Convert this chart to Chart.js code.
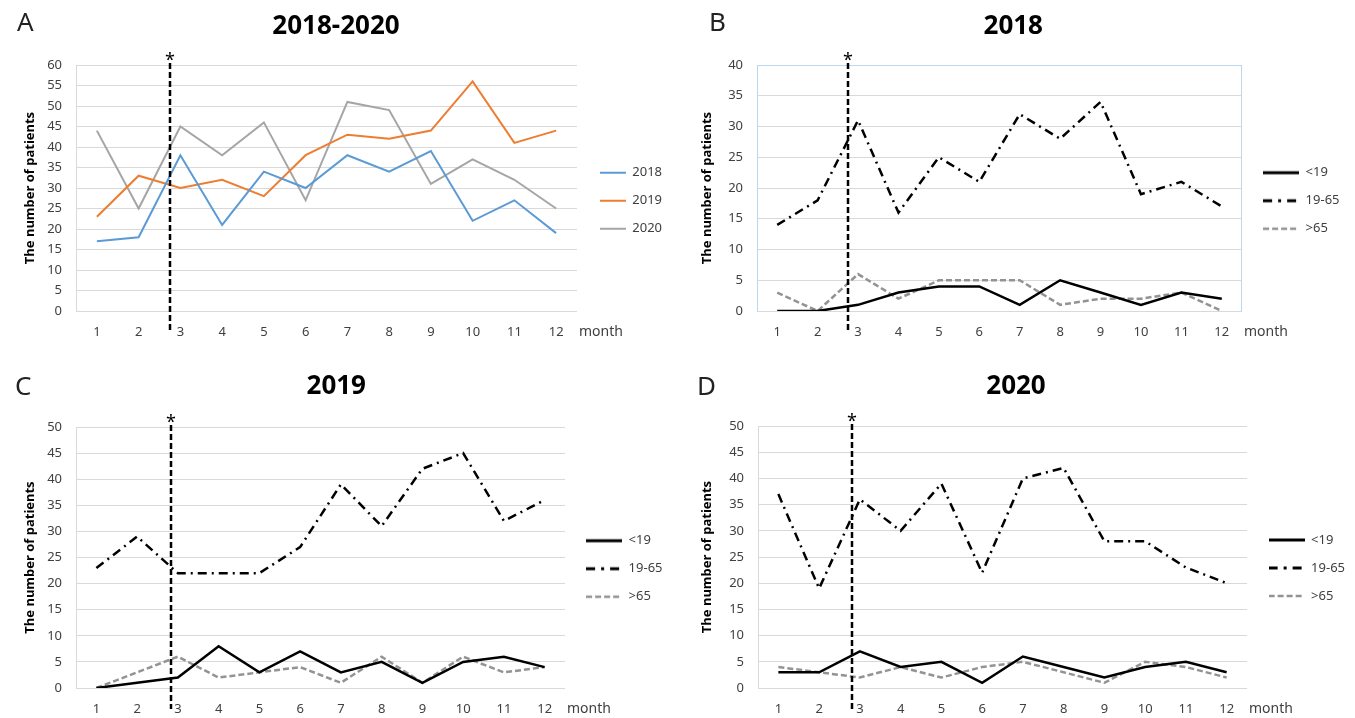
<!DOCTYPE html>
<html>
<head>
<meta charset="utf-8">
<script src="https://cdn.jsdelivr.net/npm/chart.js@4.4.1/dist/chart.umd.min.js"></script>
<style>
  body { margin: 0; background: #fff; width: 1355px; height: 718px; position: relative; overflow: hidden; }
  canvas { position: absolute; }
</style>
</head>
<body>
<canvas id="chartA" width="677" height="341" style="left:0;top:0"></canvas>
<canvas id="chartB" width="678" height="341" style="left:677px;top:0"></canvas>
<canvas id="chartC" width="677" height="358" style="left:0;top:360px"></canvas>
<canvas id="chartD" width="678" height="358" style="left:677px;top:360px"></canvas>
<script>
const months = ["1", "2", "3", "4", "5", "6", "7", "8", "9", "10", "11", "12"];

// panel A: all patients per year
const yearLabels = ["2018", "2019", "2020"];
const total2018 = [17, 18, 38, 21, 34, 30, 38, 34, 39, 22, 27, 19];
const total2019 = [23, 33, 30, 32, 28, 38, 43, 42, 44, 56, 41, 44];
const total2020 = [44, 25, 45, 38, 46, 27, 51, 49, 31, 37, 32, 25];

// panels B-D: by age group
const ageLabels = ["<19", "19-65", ">65"];
const young2018 = [0, 0, 1, 3, 4, 4, 1, 5, 3, 1, 3, 2];
const adult2018 = [14, 18, 31, 16, 25, 21, 32, 28, 34, 19, 21, 17];
const old2018 = [3, 0, 6, 2, 5, 5, 5, 1, 2, 2, 3, 0];

const young2019 = [0, 1, 2, 8, 3, 7, 3, 5, 1, 5, 6, 4];
const adult2019 = [23, 29, 22, 22, 22, 27, 39, 31, 42, 45, 32, 36];
const old2019 = [0, 3, 6, 2, 3, 4, 1, 6, 1, 6, 3, 4];

const young2020 = [3, 3, 7, 4, 5, 1, 6, 4, 2, 4, 5, 3];
const adult2020 = [37, 19, 36, 30, 39, 22, 40, 42, 28, 28, 23, 20];
const old2020 = [4, 3, 2, 4, 2, 4, 5, 3, 1, 5, 4, 2];

const yMaxA = 60, yMaxB = 40, yMaxC = 50, yMaxD = 50;

const FONT = "'Noto Sans', sans-serif";
const TICK = "#404040";
const DASHDOT = [9, 5, 2, 5];
const DASH = [6, 3];

// small picture of a line, used as legend key (keeps the dash pattern)
function keyLine(width, color, lw, dash) {
  const c = document.createElement("canvas");
  c.width = width;
  c.height = 6;
  const g = c.getContext("2d");
  g.strokeStyle = color;
  g.lineWidth = lw;
  g.setLineDash(dash || []);
  g.beginPath();
  g.moveTo(0, 3);
  g.lineTo(width, 3);
  g.stroke();
  return c;
}

// star + dashed marker between Feb and Mar, "month" label, panel letter
const panelDecor = {
  id: "panelDecor",
  afterDraw(chart, args, opts) {
    const { ctx, chartArea, scales } = chart;
    ctx.save();
    if (opts.box) {
      ctx.strokeStyle = "#BDD7EE";
      ctx.lineWidth = 1;
      ctx.beginPath();
      ctx.moveTo(chartArea.left, chartArea.top + 0.5);
      ctx.lineTo(chartArea.right - 0.5, chartArea.top + 0.5);
      ctx.lineTo(chartArea.right - 0.5, chartArea.bottom);
      ctx.stroke();
    }
    const x = Math.round(scales.x.getPixelForValue(opts.markAt));
    ctx.strokeStyle = "#000";
    ctx.lineWidth = 2.5;
    ctx.setLineDash([6, 3]);
    ctx.beginPath();
    ctx.moveTo(x, chartArea.top - 2);
    ctx.lineTo(x, chartArea.bottom + 21);
    ctx.stroke();
    ctx.setLineDash([]);
    ctx.fillStyle = "#000";
    ctx.textAlign = "center";
    ctx.textBaseline = "middle";
    ctx.font = "18px " + FONT;
    ctx.fillText("*", x, chartArea.top - 4);
    ctx.fillStyle = TICK;
    ctx.textAlign = "left";
    ctx.font = "14px " + FONT;
    ctx.fillText("month", chartArea.right + 2, chartArea.bottom + 21);
    ctx.fillStyle = "#222";
    ctx.font = "26px " + FONT;
    ctx.fillText(opts.letter, opts.letterX, opts.letterY);
    ctx.restore();
  }
};

function makeChart(id, cfg) {
  return new Chart(document.getElementById(id), {
    type: "line",
    data: { labels: months, datasets: cfg.datasets },
    options: {
      responsive: false,
      animation: false,
      layout: { padding: { left: 0, right: cfg.padRight, top: 0, bottom: 0 } },
      elements: { point: { radius: 0, hoverRadius: 0 }, line: { tension: 0 } },
      scales: {
        x: {
          offset: true,
          grid: { display: false, drawTicks: false },
          border: { display: false },
          ticks: { color: TICK, font: { family: FONT, size: 13 }, padding: 13.5, maxRotation: 0, autoSkip: false },
          afterFit: (s) => { s.height = 30; }
        },
        y: {
          min: 0,
          max: cfg.yMax,
          ticks: { stepSize: 5, color: TICK, font: { family: FONT, size: 13 }, padding: 14 },
          grid: { color: "#D9D9D9", drawTicks: false },
          border: { display: true, color: cfg.box ? "#BDD7EE" : "#D9D9D9" },
          title: {
            display: true,
            text: "The number of patients",
            color: "#000",
            font: { family: FONT, size: 13, weight: "bold" },
            padding: { top: 22, bottom: 0 }
          },
          afterFit: (s) => { s.width = cfg.yWidth; }
        },
        // empty spacer between plot and legend so the plot ends where it should
        gap: {
          position: "right",
          grid: { display: false, drawTicks: false },
          border: { display: false },
          ticks: { display: false },
          afterFit: (s) => { s.width = Math.max(0, s.chart.width - cfg.padRight - s.chart.legend.width - cfg.plotRight); }
        }
      },
      plugins: {
        title: {
          display: true,
          text: cfg.title,
          color: "#000",
          font: { family: FONT, size: 26, weight: "bold" },
          padding: { top: cfg.titleTop, bottom: cfg.titleBottom }
        },
        legend: {
          position: "right",
          align: "start",
          title: { display: true, text: "", font: { size: 13 }, padding: { top: 0, bottom: cfg.legendOffset - 15.6 } },
          labels: {
            usePointStyle: true,
            pointStyleWidth: cfg.keyWidth,
            padding: 15,
            color: TICK,
            font: { family: FONT, size: 13 }
          }
        },
        tooltip: { enabled: false },
        panelDecor: { letter: cfg.letter, letterX: cfg.letterX, letterY: cfg.letterY, markAt: cfg.markAt, box: cfg.box }
      }
    },
    plugins: [panelDecor]
  });
}

function ageSets(young, adult, old) {
  return [
    { label: ageLabels[0], data: young, borderColor: "#000", borderWidth: 2.5, pointStyle: keyLine(36, "#000", 3) },
    { label: ageLabels[1], data: adult, borderColor: "#000", borderWidth: 2.5, borderDash: DASHDOT, pointStyle: keyLine(36, "#000", 3, [9, 6, 3, 6]) },
    { label: ageLabels[2], data: old, borderColor: "#939393", borderWidth: 2.5, borderDash: DASH, pointStyle: keyLine(36, "#939393", 2.5, [6, 3]) }
  ];
}

makeChart("chartA", {
  title: "2018-2020", letter: "A", letterX: 17, letterY: 24,
  yMax: yMaxA, yWidth: 76, plotRight: 577, padRight: 5, keyWidth: 26,
  titleTop: 11, titleBottom: 22.8, legendOffset: 151.2, markAt: 1.75,
  datasets: [
    { label: yearLabels[0], data: total2018, borderColor: "#5B9BD5", borderWidth: 2, pointStyle: keyLine(26, "#5B9BD5", 2) },
    { label: yearLabels[1], data: total2019, borderColor: "#ED7D31", borderWidth: 2, pointStyle: keyLine(26, "#ED7D31", 2) },
    { label: yearLabels[2], data: total2020, borderColor: "#A5A5A5", borderWidth: 2, pointStyle: keyLine(26, "#A5A5A5", 2) }
  ]
});

makeChart("chartB", {
  title: "2018", letter: "B", letterX: 32, letterY: 24, box: true,
  yMax: yMaxB, yWidth: 80, plotRight: 565, padRight: 5.5, keyWidth: 36,
  titleTop: 11.4, titleBottom: 22.4, legendOffset: 151.2, markAt: 1.75,
  datasets: ageSets(young2018, adult2018, old2018)
});

makeChart("chartC", {
  title: "2019", letter: "C", letterX: 15, letterY: 28,
  yMax: yMaxC, yWidth: 76, plotRight: 565, padRight: 4.5, keyWidth: 36,
  titleTop: 11.4, titleBottom: 24.4, legendOffset: 159.2, markAt: 1.82,
  datasets: ageSets(young2019, adult2019, old2019)
});

makeChart("chartD", {
  title: "2020", letter: "D", letterX: 20, letterY: 28,
  yMax: yMaxD, yWidth: 81, plotRight: 570, padRight: 0, keyWidth: 36,
  titleTop: 11.4, titleBottom: 23.4, legendOffset: 158.5, markAt: 1.8,
  datasets: ageSets(young2020, adult2020, old2020)
});
</script>
</body>
</html>
